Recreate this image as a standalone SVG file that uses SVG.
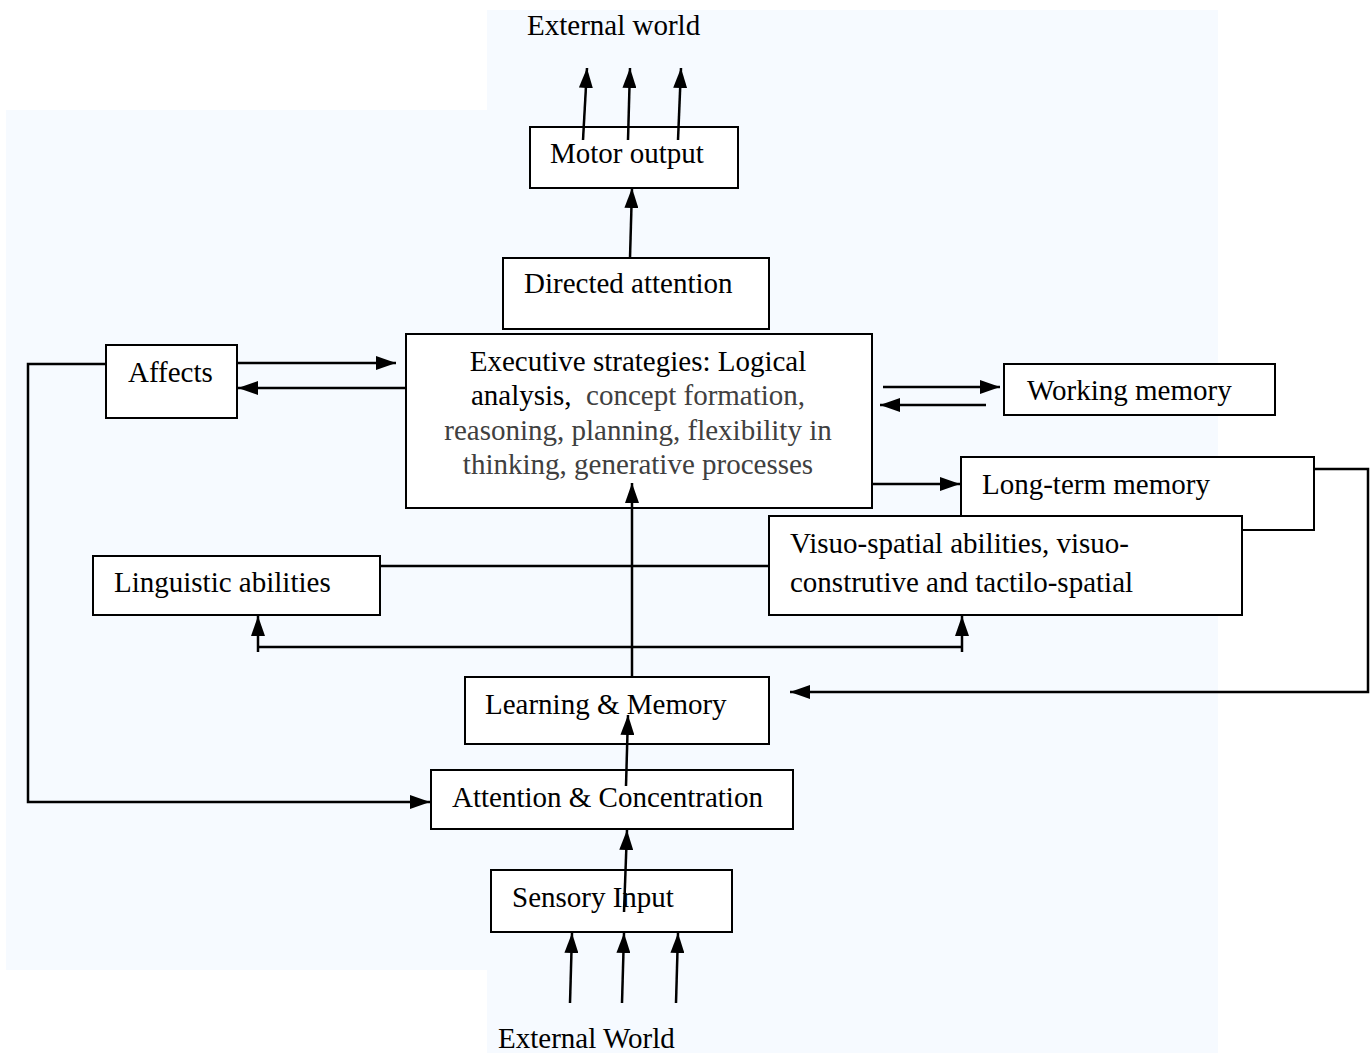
<svg xmlns="http://www.w3.org/2000/svg" width="1371" height="1053" viewBox="0 0 1371 1053">
<defs>
<marker id="ahL" markerWidth="20" markerHeight="14" refX="20" refY="7" orient="auto" markerUnits="userSpaceOnUse">
<path d="M0,0 L20,7 L0,14 Z" fill="#000"/>
</marker>
<style>
.bx{fill:#fff;stroke:#000;stroke-width:2}
.t{font-family:"Liberation Serif","Times New Roman",serif;font-size:29px;fill:#000}
.g{fill:#404040}
.c{fill:none;stroke:#000;stroke-width:2.5}
.a{marker-end:url(#ahL)}
</style>
</defs>
<rect x="0" y="0" width="1371" height="1053" fill="#fff"/>
<g id="background" fill="#f6faff">
<rect x="487" y="10" width="731" height="1043"/>
<rect x="6" y="110" width="1212" height="860"/>
</g>

<g id="externalWorldTop"><text class="t" x="527" y="35">External world</text></g>

<g id="motorOutput">
<rect class="bx" x="530" y="127" width="208" height="61"/>
<text class="t" x="550" y="163">Motor output</text>
</g>
<g id="directedAttention">
<rect class="bx" x="503" y="258" width="266" height="71"/>
<text class="t" x="524" y="293">Directed attention</text>
</g>
<g id="executive">
<rect class="bx" x="406" y="334" width="466" height="174"/>
<text class="t" x="638" y="371" text-anchor="middle">Executive strategies: Logical</text>
<text class="t" x="638" y="405" text-anchor="middle">analysis,&#160; <tspan class="g">concept formation,</tspan></text>
<text class="t g" x="638" y="440" text-anchor="middle">reasoning, planning, flexibility in</text>
<text class="t g" x="638" y="474" text-anchor="middle">thinking, generative processes</text>
</g>
<g id="affects">
<rect class="bx" x="106" y="345" width="131" height="73"/>
<text class="t" x="128" y="382">Affects</text>
</g>
<g id="workingMemory">
<rect class="bx" x="1004" y="364" width="271" height="51"/>
<text class="t" x="1027" y="400">Working memory</text>
</g>
<g id="longTermMemory">
<rect class="bx" x="961" y="457" width="353" height="73"/>
<text class="t" x="982" y="494">Long-term memory</text>
</g>
<g id="visuoSpatial">
<rect class="bx" x="769" y="516" width="473" height="99"/>
<text class="t" x="790" y="553">Visuo-spatial abilities, visuo-</text>
<text class="t" x="790" y="592">construtive and tactilo-spatial</text>
</g>
<g id="linguistic">
<rect class="bx" x="93" y="556" width="287" height="59"/>
<text class="t" x="114" y="592">Linguistic abilities</text>
</g>
<g id="learningMemory">
<rect class="bx" x="465" y="677" width="304" height="67"/>
<text class="t" x="485" y="714">Learning &amp; Memory</text>
</g>
<g id="attentionConcentration">
<rect class="bx" x="431" y="770" width="362" height="59"/>
<text class="t" x="452" y="807">Attention &amp; Concentration</text>
</g>
<g id="sensoryInput">
<rect class="bx" x="491" y="870" width="241" height="62"/>
<text class="t" x="512" y="907">Sensory Input</text>
</g>
<g id="externalWorldBottom"><text class="t" x="498" y="1048">External World</text></g>

<g id="connectors">
<line class="c a" x1="583" y1="140" x2="587" y2="68"/>
<line class="c a" x1="628" y1="140" x2="630" y2="68"/>
<line class="c a" x1="678" y1="140" x2="681" y2="68"/>
<line class="c a" x1="630" y1="258" x2="632" y2="188"/>
<line class="c a" x1="237" y1="363" x2="396" y2="363"/>
<line class="c a" x1="406" y1="388" x2="238" y2="388"/>
<polyline class="c a" points="106,364 28,364 28,802 430,802"/>
<line class="c a" x1="883" y1="387" x2="1000" y2="387"/>
<line class="c a" x1="986" y1="405" x2="880" y2="405"/>
<line class="c a" x1="872" y1="484" x2="960" y2="484"/>
<polyline class="c a" points="1314,469 1368,469 1368,692 790,692"/>
<line class="c" x1="381" y1="566" x2="768" y2="566"/>
<line class="c" x1="258" y1="647" x2="962" y2="647"/>
<line class="c a" x1="258" y1="652" x2="258" y2="616"/>
<line class="c a" x1="962" y1="652" x2="962" y2="616"/>
<line class="c a" x1="632" y1="676" x2="632" y2="483"/>
<line class="c a" x1="626" y1="786" x2="628" y2="715"/>
<line class="c a" x1="624" y1="912" x2="627" y2="830"/>
<line class="c a" x1="570" y1="1003" x2="572" y2="933"/>
<line class="c a" x1="622" y1="1003" x2="624" y2="933"/>
<line class="c a" x1="676" y1="1003" x2="678" y2="933"/>
</g>
</svg>
